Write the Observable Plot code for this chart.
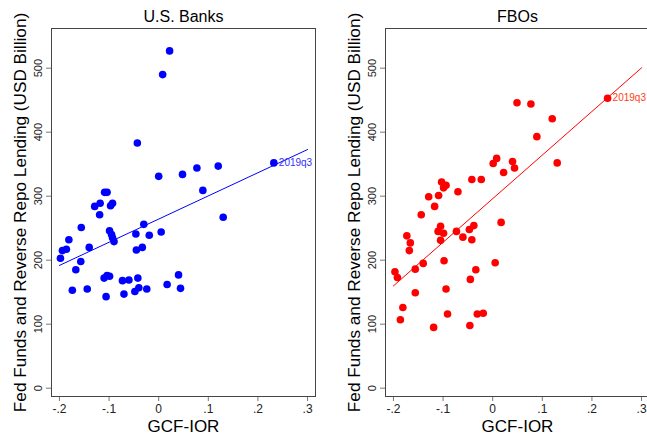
<!DOCTYPE html>
<html><head><meta charset="utf-8">
<script src="https://cdn.jsdelivr.net/npm/d3@7"></script>
<script src="https://cdn.jsdelivr.net/npm/@observablehq/plot@0.6"></script>
<style>
body{margin:0;background:#fff;}
#wrap{position:relative;width:647px;height:433px;overflow:hidden;background:#fff;}
.panel{position:absolute;top:0;overflow:visible;}
.panel svg{max-width:none !important;display:block;}
.box{position:absolute;border:1px solid #444444;box-sizing:border-box;pointer-events:none;}
</style></head><body><div id="wrap"></div>
<script>
const panelTitles = ["U.S. Banks", "FBOs"];
const yLabel = "Fed Funds and Reverse Repo Lending (USD Billion)";
const xLabel = "GCF-IOR";
const xTicks = [-0.2, -0.1, 0, 0.1, 0.2, 0.3];
const xTickLabels = ["-.2", "-.1", "0", ".1", ".2", ".3"];
const yTicks = [0, 100, 200, 300, 400, 500];
const pointLabel = "2019q3";
const fitRange = [-0.2, 0.3];
const xDomain = [-0.216, 0.316];
const yDomain = [-13, 562];

const usX = [0.022,0.008,-0.043,0.0,0.048,0.077,0.120,0.089,0.130,-0.109,-0.104,-0.129,-0.118,-0.119,-0.097,-0.093,-0.156,-0.181,-0.194,-0.186,-0.198,-0.167,-0.157,-0.140,-0.099,-0.095,-0.093,-0.090,-0.046,-0.030,-0.019,0.005,-0.045,-0.033,-0.174,-0.144,-0.110,-0.104,-0.099,-0.106,-0.073,-0.060,-0.070,-0.042,-0.048,-0.040,-0.024,0.017,0.040,0.044,0.232];
const usY = [527,490,383,331,334,344,347,309,267,306,306,284,289,271,285,289,251,232,215,217,203,185,198,220,246,240,235,229,241,256,239,244,216,220,153,155,172,176,175,143,168,169,147,172,151,157,155,162,177,156,352];

const fboX = [0.049,0.077,0.120,0.089,0.130,0.001,0.008,0.040,0.044,0.022,-0.042,-0.023,-0.103,-0.094,-0.099,-0.109,-0.129,-0.117,-0.070,-0.144,-0.105,-0.110,-0.099,-0.105,-0.073,-0.060,-0.047,-0.038,-0.042,0.017,-0.173,-0.166,-0.168,-0.197,-0.192,-0.156,-0.140,-0.098,0.005,-0.034,-0.045,-0.156,-0.094,-0.181,-0.186,-0.091,-0.031,-0.019,-0.119,-0.046,0.2315];
const fboY = [446,444,421,393,352,351,359,354,344,337,326,326,322,317,313,301,299,284,307,271,253,245,242,231,245,236,248,254,232,259,238,227,215,182,173,186,195,199,196,185,170,149,155,126,107,116,116,117,95,98,453];

const FONT = "'Liberation Sans', Arial, Helvetica, sans-serif";

function ols(xs, ys) {
  const mx = d3.mean(xs), my = d3.mean(ys);
  let sxy = 0, sxx = 0;
  xs.forEach((x, i) => { sxy += (x - mx) * (ys[i] - my); sxx += (x - mx) ** 2; });
  const b = sxy / sxx;
  return {a: my - b * mx, b};
}

function panel({xs, ys, color, labelColor, title, left, width, marginLeft}) {
  const data = xs.map((x, i) => ({x, y: ys[i], label: i === xs.length - 1 ? pointLabel : ""}));
  const {a, b} = ols(xs, ys);
  const fit = fitRange.map(x => ({x, y: a + b * x}));
  const centered = {textAnchor: "middle", lineAnchor: "middle"};
  const plot = Plot.plot({
    width, height: 433,
    marginLeft, marginRight: width - marginLeft - 264, marginTop: 28, marginBottom: 37,
    style: {fontFamily: FONT, overflow: "visible"},
    x: {domain: xDomain},
    y: {domain: yDomain},
    marks: [
      Plot.axisY({ticks: yTicks, tickSize: 5, stroke: "#777777", tickFormat: () => "", label: null}),
      Plot.text(yTicks, {y: d => d, text: d => String(d), frameAnchor: "left", dx: -13, rotate: -90, fontSize: 11, fill: "#222222", ...centered}),
      Plot.axisX({ticks: xTicks, tickSize: 5, tickPadding: 3, stroke: "#777777", fontSize: 12, fill: "#222222", tickFormat: d => xTickLabels[xTicks.indexOf(d)], label: null}),
      Plot.line(fit, {x: "x", y: "y", stroke: color, strokeWidth: 1}),
      Plot.dot(data, {x: "x", y: "y", r: 3.8, fill: color, stroke: "none"}),
      Plot.text(data.filter(d => d.label), {x: "x", y: "y", text: "label", textAnchor: "start", dx: 5, fontSize: 10, fill: labelColor}),
      Plot.text([title], {frameAnchor: "top", dy: -12, fontSize: 16, fill: "#000000", ...centered}),
      Plot.text([yLabel], {frameAnchor: "left", dx: -31, rotate: -90, fontSize: 17.2, fill: "#000000", ...centered}),
      Plot.text([xLabel], {frameAnchor: "bottom", dy: 30, fontSize: 17, fill: "#000000", ...centered}),
      Plot.frame({stroke: "#444444"})
    ]
  });
  const div = document.createElement("div");
  div.className = "panel";
  div.style.left = left + "px";
  div.style.width = width + "px";
  div.appendChild(plot);
  document.getElementById("wrap").appendChild(div);
  try {
    const xr = plot.scale("x").range, yr = plot.scale("y").range;
    const box = document.createElement("div");
    box.className = "box";
    box.style.left = (left + Math.min(...xr)) + "px";
    box.style.top = Math.min(...yr) + "px";
    box.style.width = (Math.abs(xr[1] - xr[0]) + 1) + "px";
    box.style.height = (Math.abs(yr[1] - yr[0]) + 1) + "px";
    document.getElementById("wrap").appendChild(box);
  } catch (e) {}
}

panel({xs: usX, ys: usY, color: "#0000ff", labelColor: "#3030ff", title: panelTitles[0], left: 0, width: 330, marginLeft: 51});
panel({xs: fboX, ys: fboY, color: "#ff0000", labelColor: "#ff4020", title: panelTitles[1], left: 330, width: 335, marginLeft: 55});
</script>
</body></html>
